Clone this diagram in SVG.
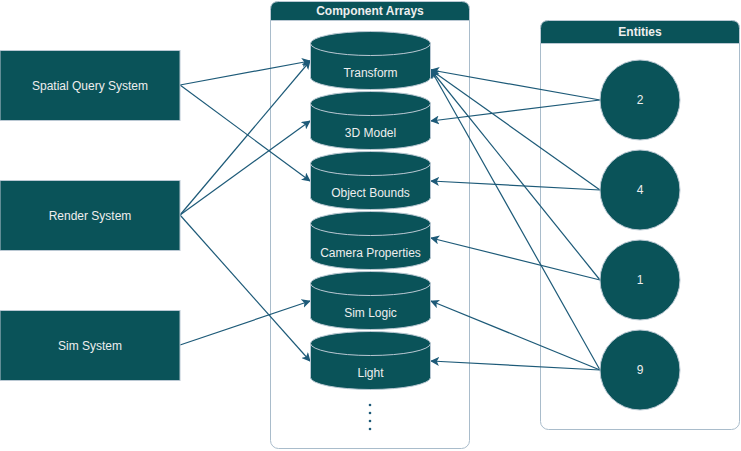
<svg xmlns="http://www.w3.org/2000/svg" width="741" height="451" viewBox="0 0 741 451">
<defs>
<style>
.node{fill:#0a5359;stroke:#bac8d3;stroke-width:1}
.lbl{font-family:"Liberation Sans",Arial,sans-serif;font-size:12px;fill:#eeeeee;text-anchor:middle;dominant-baseline:central}
.hdr{font-family:"Liberation Sans",Arial,sans-serif;font-size:12px;font-weight:bold;fill:#eeeeee;text-anchor:middle;dominant-baseline:central}
.box{fill:#ffffff;stroke:#a9bccb;stroke-width:1}
.rim{fill:none;stroke:#bac8d3;stroke-width:1}
.edge{fill:none;stroke:#1d5a78;stroke-width:1.2;marker-end:url(#arr)}
</style>
<marker id="arr" viewBox="0 0 10 10" refX="9" refY="5" markerWidth="9" markerHeight="9" markerUnits="userSpaceOnUse" orient="auto">
<path d="M0,0 L10,5 L0,10 L2.5,5 Z" fill="#1d5a78"/>
</marker>
<path id="cyl" d="M0,12 A60,12 0 0 1 120,12 V46 A60,12 0 0 1 0,46 Z"/>
</defs>

<g id="container-component-arrays">
<rect class="box" x="270.5" y="1.5" width="199" height="447" rx="8"/>
<path class="node" d="M270.5,20.5 V9.5 Q270.5,1.5 278.5,1.5 H461.5 Q469.5,1.5 469.5,9.5 V20.5 Z"/>
<text class="hdr" x="370" y="11">Component Arrays</text>
</g>

<g id="container-entities">
<rect class="box" x="540.5" y="20.5" width="199" height="409" rx="8"/>
<path class="node" d="M540.5,43.5 V28.5 Q540.5,20.5 548.5,20.5 H731.5 Q739.5,20.5 739.5,28.5 V43.5 Z"/>
<text class="hdr" x="640" y="32">Entities</text>
</g>

<g id="connectors">
<line class="edge" x1="180" y1="85" x2="310" y2="61"/>
<line class="edge" x1="180" y1="85" x2="310" y2="181"/>
<line class="edge" x1="180" y1="215" x2="310" y2="61"/>
<line class="edge" x1="180" y1="215" x2="310" y2="121"/>
<line class="edge" x1="180" y1="215" x2="310" y2="361"/>
<line class="edge" x1="180" y1="345" x2="310" y2="301"/>
<line class="edge" x1="600" y1="100" x2="431" y2="70"/>
<line class="edge" x1="600" y1="100" x2="431" y2="121"/>
<line class="edge" x1="600" y1="190" x2="431" y2="70"/>
<line class="edge" x1="600" y1="190" x2="431" y2="181"/>
<line class="edge" x1="600" y1="280" x2="431" y2="70"/>
<line class="edge" x1="600" y1="280" x2="431" y2="238"/>
<line class="edge" x1="600" y1="370" x2="431" y2="70"/>
<line class="edge" x1="600" y1="370" x2="431" y2="301"/>
<line class="edge" x1="600" y1="370" x2="431" y2="361"/>
</g>

<g id="spatial-query-system">
<rect class="node" x="0" y="50.5" width="180" height="70"/>
<text class="lbl" x="90" y="85.5">Spatial Query System</text>
</g>
<g id="render-system">
<rect class="node" x="0" y="180.5" width="180" height="70"/>
<text class="lbl" x="90" y="215.5">Render System</text>
</g>
<g id="sim-system">
<rect class="node" x="0" y="310.5" width="180" height="70"/>
<text class="lbl" x="90" y="345.5">Sim System</text>
</g>

<g id="transform" transform="translate(310.5,31.5)">
<use href="#cyl" class="node"/>
<path class="rim" d="M0,12 A60,12 0 0 0 120,12"/>
<text class="lbl" x="60" y="41.5">Transform</text>
</g>
<g id="model-3d" transform="translate(310.5,91.5)">
<use href="#cyl" class="node"/>
<path class="rim" d="M0,12 A60,12 0 0 0 120,12"/>
<text class="lbl" x="60" y="41.5">3D Model</text>
</g>
<g id="object-bounds" transform="translate(310.5,151.5)">
<use href="#cyl" class="node"/>
<path class="rim" d="M0,12 A60,12 0 0 0 120,12"/>
<text class="lbl" x="60" y="41.5">Object Bounds</text>
</g>
<g id="camera-properties" transform="translate(310.5,211.5)">
<use href="#cyl" class="node"/>
<path class="rim" d="M0,12 A60,12 0 0 0 120,12"/>
<text class="lbl" x="60" y="41.5">Camera Properties</text>
</g>
<g id="sim-logic" transform="translate(310.5,271.5)">
<use href="#cyl" class="node"/>
<path class="rim" d="M0,12 A60,12 0 0 0 120,12"/>
<text class="lbl" x="60" y="41.5">Sim Logic</text>
</g>
<g id="light" transform="translate(310.5,331.5)">
<use href="#cyl" class="node"/>
<path class="rim" d="M0,12 A60,12 0 0 0 120,12"/>
<text class="lbl" x="60" y="41.5">Light</text>
</g>

<g id="ellipsis-dots" fill="#1d5a78">
<circle cx="370" cy="405" r="1.3"/>
<circle cx="370" cy="413" r="1.3"/>
<circle cx="370" cy="421" r="1.3"/>
<circle cx="370" cy="429" r="1.3"/>
</g>

<g id="entity-2">
<circle class="node" cx="640" cy="100" r="40"/>
<text class="lbl" x="640" y="100">2</text>
</g>
<g id="entity-4">
<circle class="node" cx="640" cy="190" r="40"/>
<text class="lbl" x="640" y="190">4</text>
</g>
<g id="entity-1">
<circle class="node" cx="640" cy="280" r="40"/>
<text class="lbl" x="640" y="280">1</text>
</g>
<g id="entity-9">
<circle class="node" cx="640" cy="370" r="40"/>
<text class="lbl" x="640" y="370">9</text>
</g>
</svg>
